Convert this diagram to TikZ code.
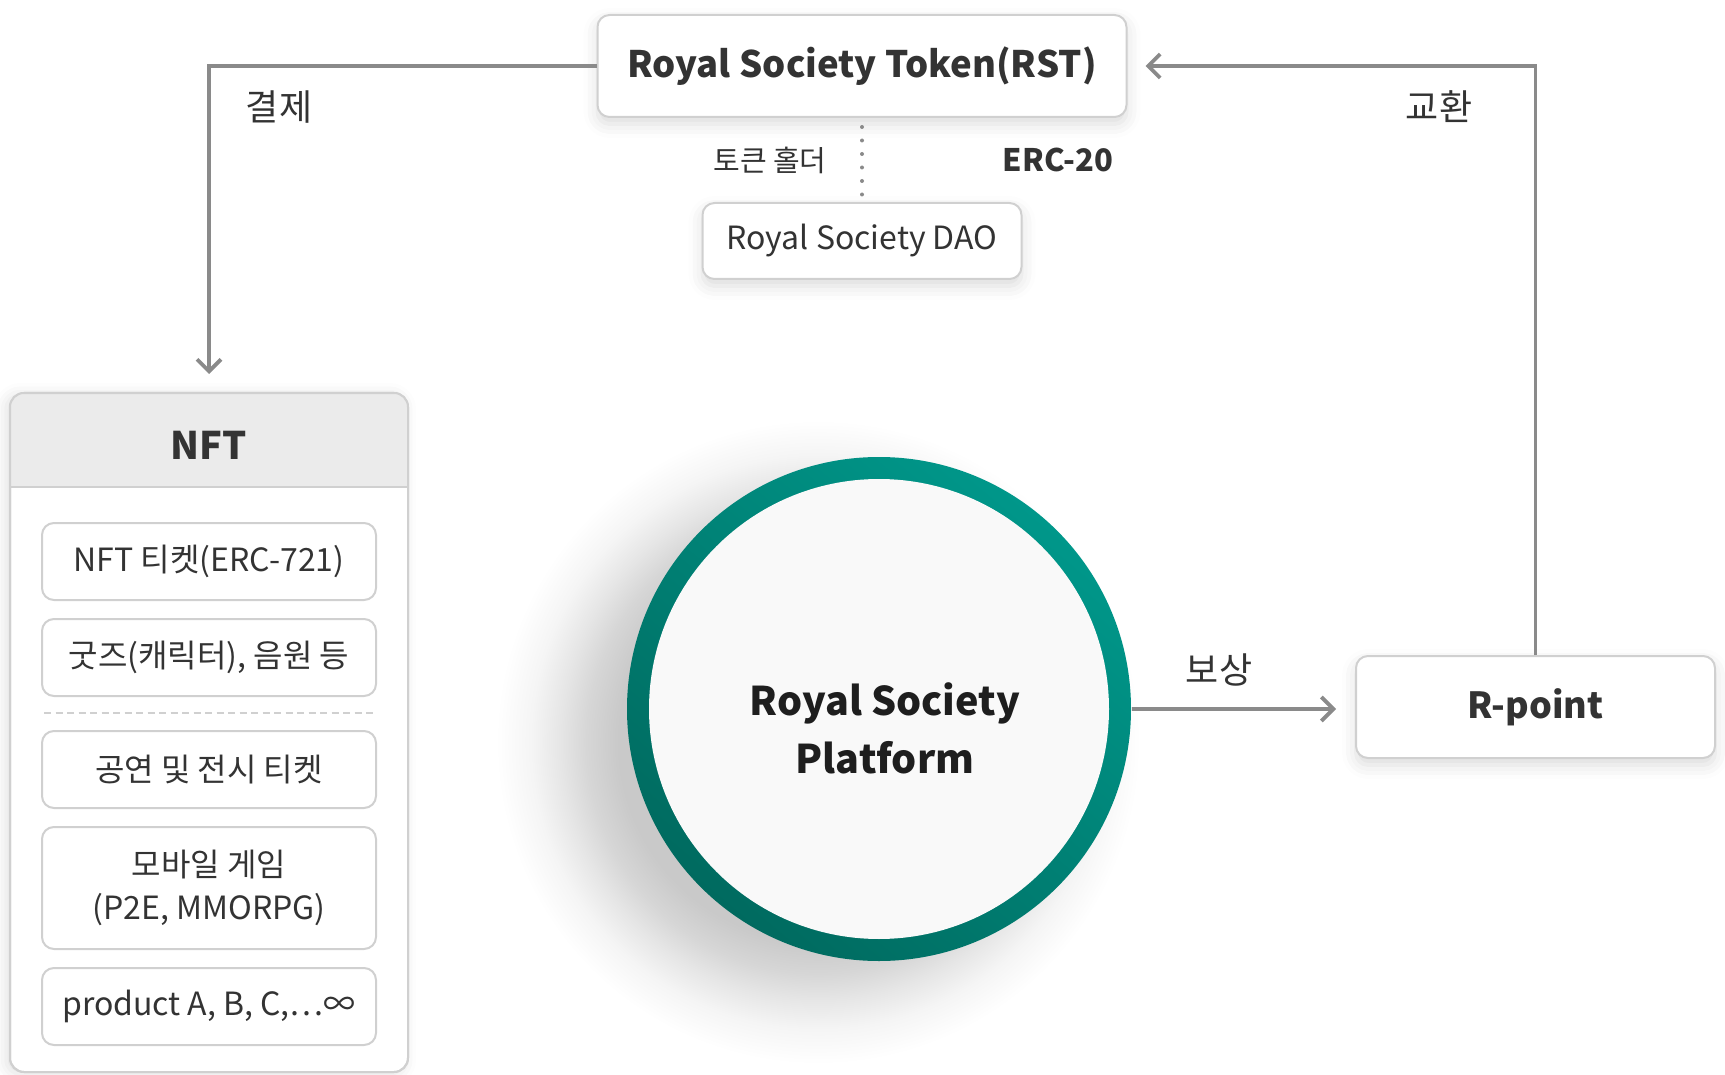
\documentclass[tikz,border=0pt]{standalone}
\usepackage{fontspec}
\setmainfont{Noto Sans CJK KR}
\usetikzlibrary{arrows.meta,shadows.blur,calc}
\definecolor{txt}{HTML}{333333}
\definecolor{darktxt}{HTML}{1E1E1E}
\definecolor{linegray}{HTML}{8A8A8A}
\definecolor{bordergray}{HTML}{D0D0D0}
\definecolor{hdrgray}{HTML}{EBEBEB}
\definecolor{tealdark}{HTML}{006A5F}
\definecolor{tealmid}{HTML}{008577}
\definecolor{teallight}{HTML}{00978A}
\definecolor{innerfill}{HTML}{F9F9F9}
\pgfdeclareradialshading{platshadow}{\pgfpoint{0bp}{0bp}}{%
  color(0bp)=(black!22); color(15.6bp)=(black!21); color(18bp)=(black!16);
  color(20bp)=(black!10); color(22.3bp)=(black!4); color(25bp)=(white); color(50bp)=(white)}
\tikzset{
  card/.style={draw=bordergray, line width=2pt, fill=white, rounded corners=12pt,
    text=txt, inner sep=0pt, align=center},
  cardshadow/.style={blur shadow={shadow xshift=0pt, shadow yshift=-7pt,
    shadow blur radius=14pt, shadow opacity=14}},
  item/.style={card, minimum width=334pt, minimum height=77pt,
    font=\fontsize{32}{43}\selectfont},
  lbl/.style={text=txt, inner sep=0pt, font=\fontsize{31}{38}\selectfont},
  conn/.style={draw=linegray, line width=3.8pt,
    -{Straight Barb[length=12pt, width=24pt, line width=3.8pt]}},
}
\begin{document}
\begin{tikzpicture}[x=1pt, y=-1pt]
\useasboundingbox (0,0) rectangle (1725,1075);

% ---- circle shadow
\shade[shading=platshadow] (818,742) circle (322);

% ---- NFT container
\path[fill=white, draw=bordergray, line width=2pt, rounded corners=14pt,
  blur shadow={shadow xshift=-4pt, shadow yshift=-2pt, shadow blur radius=12pt, shadow opacity=12}]
  (10,393) rectangle (408,1072);
\path[fill=hdrgray] (10,487) [rounded corners=14pt] -- (10,393) -- (408,393)
  [sharp corners] -- (408,487) -- cycle;
\draw[bordergray, line width=2pt, rounded corners=14pt] (10,393) rectangle (408,1072);
\draw[bordergray, line width=2pt] (10,487) -- (408,487);
\node[text=txt, font=\bfseries\fontsize{38}{46}\selectfont, inner sep=0pt] (nfttitle) at (209,445) {NFT};
\coordinate (nfttop) at (209,393);

\node[item] (i1) at (209,561.5) {NFT 티켓(ERC-721)};
\node[item] (i2) at (209,657.5) {굿즈(캐릭터), 음원 등};
\draw[bordergray, line width=2pt, dash pattern=on 7pt off 4.5pt] (44,713) -- (374,713);
\node[item] (i3) at (209,769.5) {공연 및 전시 티켓};
\node[item, minimum height=122pt] (i4) at (209,888) {모바일 게임\\(P2E, MMORPG)};
\node[item] (i5) at (209,1006.5) {product A, B, C,…∞};

% ---- top boxes
\node[card, cardshadow, minimum width=529pt, minimum height=102pt,
  font=\bfseries\fontsize{36.5}{44}\selectfont] (rst) at (862,66) {Royal Society Token(RST)};
\node[card, cardshadow, minimum width=319pt, minimum height=76pt,
  font=\fontsize{32}{38}\selectfont] (dao) at (862,241) {Royal Society DAO};
\node[lbl, font=\fontsize{29}{36}\selectfont] (holder) at (770,160) {토큰 홀더};
\node[lbl, font=\bfseries\fontsize{31}{38}\selectfont] (erc) at (1058,160) {ERC-20};
\draw[linegray, line width=4pt, line cap=round, dash pattern=on 0pt off 13.5pt,
  shorten <=9pt, shorten >=7pt] (rst.south) -- (dao.north);

% ---- R-point
\node[card, cardshadow, minimum width=359pt, minimum height=102pt,
  font=\bfseries\fontsize{36}{44}\selectfont] (rp) at (1535.5,707) {R-point};

% ---- platform circle
\shade[shading=axis, bottom color=tealdark, middle color=tealmid, top color=teallight,
  shading angle=-40] (879,709) circle (252);
\node[circle, fill=innerfill, minimum size=460pt, inner sep=0pt] (plat) at (879,709) {};
\node[align=center, text=darktxt, inner sep=0pt,
  font=\bfseries\fontsize{39.5}{58}\selectfont] (plattext) at (885,728)
  {Royal Society\\Platform};

% ---- connectors
\draw[conn, shorten >=19pt] (rst.west) -| (nfttop);
\draw[conn] (rp.north) |- ($(rst.east)+(18,0)$);
\draw[conn, shorten >=19pt, shorten <=23pt] (plat.east) -- (plat.east -| rp.west);

\node[lbl, font=\fontsize{36}{42}\selectfont] (pay) at (279,107) {결제};
\node[lbl, font=\fontsize{36}{42}\selectfont] (swap) at (1439,107) {교환};
\node[lbl, font=\fontsize{36}{42}\selectfont] (reward) at (1219,670) {보상};
\end{tikzpicture}
\end{document}
